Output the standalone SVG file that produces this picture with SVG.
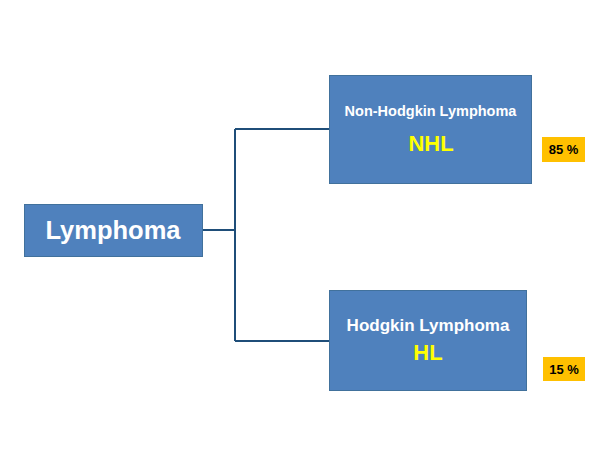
<svg xmlns="http://www.w3.org/2000/svg" width="600" height="452" viewBox="0 0 600 452">
<style>
.box{fill:#4f81bd;stroke:#41719c;stroke-width:1}
.badge{fill:#ffc000}
.w{fill:#fff;font-family:"Liberation Sans",Arial,sans-serif;font-weight:bold;text-anchor:middle}
.y{fill:#ffff00;font-family:"Liberation Sans",Arial,sans-serif;font-weight:bold;text-anchor:middle}
.b{fill:#000;font-family:"Liberation Sans",Arial,sans-serif;font-weight:bold;text-anchor:middle;font-size:13px}
.conn{fill:none;stroke:#1f4e79;stroke-width:2}
</style>
<rect width="600" height="452" fill="#fff"/>
<g id="connectors">
<path class="conn" d="M203,230 H235 M235,129 V341 M235,129 H329 M235,341 H329"/>
</g>
<g id="lymphoma">
<rect class="box" x="24.5" y="204.5" width="178" height="52"/>
<text class="w" x="113" y="239" font-size="25.5">Lymphoma</text>
</g>
<g id="nhl">
<rect class="box" x="329.5" y="75.5" width="202" height="108"/>
<text class="w" x="430.5" y="116" font-size="14.5">Non-Hodgkin Lymphoma</text>
<text class="y" x="431" y="151" font-size="22">NHL</text>
</g>
<g id="hl">
<rect class="box" x="329.5" y="290.5" width="197" height="100"/>
<text class="w" x="428" y="331" font-size="17">Hodgkin Lymphoma</text>
<text class="y" x="428" y="360" font-size="22">HL</text>
</g>
<g id="badge85">
<rect class="badge" x="542" y="137" width="43" height="25"/>
<text class="b" x="563.5" y="154">85 %</text>
</g>
<g id="badge15">
<rect class="badge" x="543" y="357" width="42" height="24"/>
<text class="b" x="564" y="374">15 %</text>
</g>
</svg>
